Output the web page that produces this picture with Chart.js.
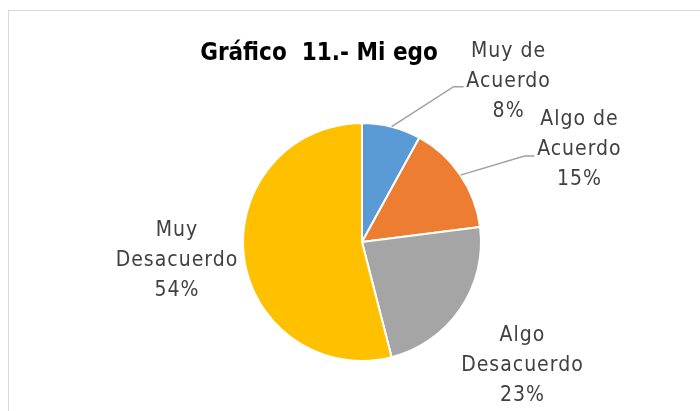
<!DOCTYPE html>
<html>
<head>
  <meta charset="utf-8">
  <title>Gráfico 11.- Mi ego</title>
  <script src="https://cdn.jsdelivr.net/npm/chart.js"></script>
  <style>
    body {
      margin: 0;
      background: #ffffff;
    }
    .wrap {
      position: relative;
      width: 700px;
      height: 411px;
    }
  </style>
</head>
<body>

  <div class="wrap"><canvas id="egoChart"></canvas></div>

  <script>
    const CHART_TITLE = "Gráfico  11.- Mi ego";
    const categories = ["Muy de Acuerdo", "Algo de Acuerdo", "Algo Desacuerdo", "Muy Desacuerdo"];
    const labelLines = [["Muy de", "Acuerdo"], ["Algo de", "Acuerdo"], ["Algo", "Desacuerdo"], ["Muy", "Desacuerdo"]];
    const percents = [8, 15, 23, 54];
    const colors = ['#5b9bd5', '#ed7d31', '#a5a5a5', '#ffc000'];

    const FONT = "'Liberation Sans Narrow', 'DejaVu Sans Condensed', 'Open Sans', sans-serif";

    // where each label sits, relative to the outer middle of its slice
    const labelOffsets = [[117, -45], [119, -26], [62, 57], [-67, 4]];
    // leader lines: [elbow, end] relative to the slice's outer middle (null = none)
    const leaders = [[[62, -40], [72, -40]], [[64, -19], [74, -19]], null, null];

    const labelPlugin = {
      id: 'excelLabels',
      afterDraw(chart) {
        const ctx = chart.ctx;
        ctx.save();

        // chart frame
        ctx.strokeStyle = '#d9d9d9';
        ctx.lineWidth = 1;
        ctx.strokeRect(8.5, 10.5, 720, 420);

        // title
        ctx.fillStyle = '#000000';
        ctx.font = "bold 24px " + FONT;
        ctx.textAlign = 'center';
        ctx.textBaseline = 'middle';
        ctx.fillText(CHART_TITLE, 319, 54);

        const arcs = chart.getDatasetMeta(0).data;
        arcs.forEach((arc, i) => {
          const mid = (arc.startAngle + arc.endAngle) / 2;
          const px = arc.x + Math.cos(mid) * arc.outerRadius;
          const py = arc.y + Math.sin(mid) * arc.outerRadius;

          if (leaders[i]) {
            ctx.strokeStyle = '#a0a0a0';
            ctx.lineWidth = 1.5;
            ctx.beginPath();
            ctx.moveTo(px, py);
            ctx.lineTo(px + leaders[i][0][0], py + leaders[i][0][1]);
            ctx.lineTo(px + leaders[i][1][0], py + leaders[i][1][1]);
            ctx.stroke();
          }

          const lx = px + labelOffsets[i][0];
          const ly = py + labelOffsets[i][1];
          const lines = labelLines[i].concat([percents[i] + '%']);
          ctx.fillStyle = '#404040';
          ctx.font = "21px " + FONT;
          ctx.letterSpacing = '1px';
          lines.forEach((t, k) => {
            ctx.fillText(t, lx, ly + (k - 1) * 30);
          });
          ctx.letterSpacing = '0px';
        });
        ctx.restore();
      }
    };

    new Chart(document.getElementById('egoChart'), {
      type: 'pie',
      data: {
        labels: categories,
        datasets: [{
          data: percents,
          backgroundColor: colors,
          borderColor: '#ffffff',
          borderWidth: 2,
          hoverOffset: 0
        }]
      },
      options: {
        responsive: true,
        maintainAspectRatio: false,
        animation: false,
        events: [],
        layout: {
          padding: { left: 242, right: 218, top: 122, bottom: 49 }
        },
        plugins: {
          legend: { display: false },
          title: { display: false },
          tooltip: { enabled: false }
        }
      },
      plugins: [labelPlugin]
    });
  </script>
</body>
</html>
